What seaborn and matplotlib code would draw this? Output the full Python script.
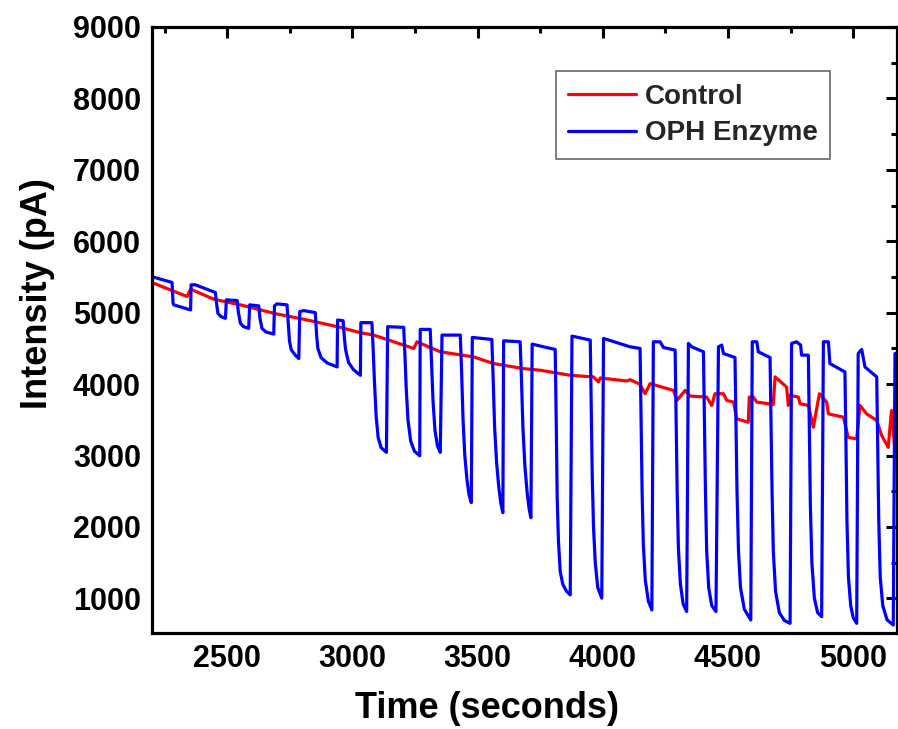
import numpy as np
import pandas as pd
import matplotlib
matplotlib.use("Agg")
import matplotlib.pyplot as plt
from matplotlib.ticker import MultipleLocator
import seaborn as sns

# ---- data ----
series_names = ["Control", "OPH Enzyme"]

control_time = [2205, 2340, 2354, 2447, 2553, 2686, 2819, 2952, 3032, 3085, 3245, 3258,
                3351, 3484, 3564, 3683, 3750, 3870, 3963, 3983, 3990, 4096, 4109, 4149,
                4169, 4189, 4282, 4296, 4329, 4349, 4415, 4435, 4448, 4482, 4495, 4522,
                4535, 4581, 4585, 4601, 4615, 4681, 4688, 4734, 4741, 4748, 4781, 4788,
                4821, 4841, 4865, 4894, 4901, 4961, 4980, 5014, 5027, 5054, 5094, 5114,
                5140, 5153, 5167]
control_intensity = [5414, 5226, 5329, 5188, 5109, 4991, 4898, 4794, 4719, 4686, 4499, 4592,
                     4452, 4381, 4287, 4217, 4194, 4123, 4100, 4029, 4086, 4043, 4062, 3996,
                     3865, 4006, 3912, 3771, 3912, 3832, 3818, 3701, 3865, 3865, 3771, 3748,
                     3513, 3466, 3818, 3818, 3748, 3715, 4100, 3959, 3701, 3842, 3818, 3724,
                     3701, 3396, 3865, 3748, 3583, 3537, 3255, 3231, 3701, 3583, 3490, 3278,
                     3114, 3630, 3067]

oph_time = [
    2205, 2280, 2284, 2287, 2354,
    2356, 2373, 2453, 2458, 2463, 2475, 2493,
    2497, 2540, 2545, 2553, 2565, 2586,
    2590, 2626, 2631, 2639, 2655, 2686,
    2689, 2699, 2739, 2744, 2749, 2756, 2772, 2786,
    2790, 2806, 2852, 2857, 2862, 2875, 2899, 2939,
    2941, 2963, 2968, 2973, 2985, 3005, 3032,
    3034, 3078, 3083, 3088, 3095, 3103, 3115, 3136,
    3141, 3205, 3210, 3215, 3222, 3233, 3248, 3269,
    3271, 3311, 3316, 3322, 3330, 3340, 3351,
    3358, 3431, 3436, 3442, 3449, 3458, 3466, 3475,
    3479, 3557, 3562, 3568, 3576, 3585, 3593, 3601,
    3604, 3670, 3675, 3681, 3689, 3698, 3706, 3713,
    3718, 3763, 3810, 3814, 3818, 3823, 3830, 3840, 3855, 3870,
    3877, 3950, 3954, 3958, 3963, 3970, 3980, 3996,
    4003, 4109, 4149, 4153, 4157, 4162, 4170, 4182, 4196,
    4202, 4229, 4242, 4289, 4293, 4297, 4302, 4310, 4321, 4335,
    4342, 4355, 4402, 4406, 4410, 4415, 4423, 4435, 4452,
    4462, 4475, 4482, 4528, 4532, 4536, 4542, 4550, 4565, 4591,
    4597, 4615, 4621, 4668, 4672, 4676, 4681, 4690, 4705, 4725, 4748,
    4754, 4774, 4790, 4794, 4821, 4825, 4829, 4835, 4845, 4858, 4874,
    4881, 4901, 4907, 4967, 4971, 4975, 4981, 4990, 5000, 5014,
    5020, 5034, 5047, 5094, 5098, 5102, 5108, 5118, 5135, 5160,
    5167, 5185]
oph_intensity = [
    5498, 5423, 5132, 5109, 5038,
    5390, 5390, 5282, 5120, 4991, 4945, 4921,
    5179, 5170, 5000, 4851, 4805, 4780,
    5109, 5095, 4920, 4780, 4730, 4700,
    5095, 5123, 5109, 4850, 4600, 4480, 4405, 4358,
    5015, 5029, 5001, 4700, 4500, 4370, 4297, 4240,
    4897, 4888, 4650, 4480, 4300, 4200, 4123,
    4860, 4860, 4500, 4050, 3550, 3250, 3110, 3044,
    4804, 4794, 4400, 3950, 3500, 3200, 3060, 2997,
    4766, 4766, 4300, 3771, 3350, 3130, 3044,
    4686, 4686, 4200, 3500, 3000, 2650, 2450, 2340,
    4653, 4625, 4100, 3400, 2900, 2550, 2330, 2199,
    4606, 4592, 4100, 3400, 2850, 2480, 2250, 2129,
    4560, 4522, 4485, 3500, 2400, 1800, 1378, 1200, 1100, 1049,
    4672, 4616, 3700, 2700, 2000, 1500, 1150, 1002,
    4639, 4522, 4499, 3500, 2500, 1750, 1250, 960, 838,
    4592, 4592, 4513, 4475, 3500, 2500, 1700, 1200, 920, 815,
    4569, 4522, 4452, 3500, 2500, 1659, 1150, 900, 815,
    4522, 4546, 4428, 4372, 3400, 2500, 1659, 1150, 850, 697,
    4592, 4592, 4452, 4372, 3400, 2500, 1659, 1100, 800, 690, 650,
    4569, 4592, 4546, 4405, 4405, 3400, 2300, 1500, 1000, 800, 744,
    4592, 4592, 4287, 4170, 3200, 2100, 1300, 900, 730, 650,
    4428, 4485, 4240, 4100, 3100, 2100, 1300, 900, 700, 627,
    4428, 4440]

x_ticks = [2500, 3000, 3500, 4000, 4500, 5000]
y_ticks = [1000, 2000, 3000, 4000, 5000, 6000, 7000, 8000, 9000]
x_label = "Time (seconds)"
y_label = "Intensity (pA)"

# ---- build table ----
df = pd.concat([
    pd.DataFrame({"Time": control_time, "Intensity": control_intensity,
                  "Series": series_names[0]}),
    pd.DataFrame({"Time": oph_time, "Intensity": oph_intensity,
                  "Series": series_names[1]}),
], ignore_index=True)

sns.set_theme(style="white")
plt.rcParams["font.family"] = ["Liberation Sans", "DejaVu Sans"]
plt.rcParams["font.weight"] = "bold"

fig = plt.figure(figsize=(8.98, 7.29), dpi=100)
ax = fig.add_axes([0.1693, 0.1317, 0.8296, 0.8313])

sns.lineplot(data=df, x="Time", y="Intensity", hue="Series",
             hue_order=series_names, palette=["#ff0000", "#0000ff"],
             sort=False, estimator=None, units="Series", linewidth=2.3, ax=ax)

ax.set_xlim(2200, 5175)
ax.set_ylim(515, 9000)
ax.set_xticks(x_ticks)
ax.set_yticks(y_ticks)
ax.xaxis.set_minor_locator(MultipleLocator(250))
ax.yaxis.set_minor_locator(MultipleLocator(500))
ax.tick_params(which="both", direction="in", top=True, right=True,
               width=2.2, color="black", labelsize=22, labelcolor="black")
ax.tick_params(which="major", length=8, pad=8)
ax.tick_params(which="minor", length=4.5)
for lab in ax.get_xticklabels() + ax.get_yticklabels():
    lab.set_fontweight("bold")

for s in ax.spines.values():
    s.set_visible(True)
    s.set_color("black")
    s.set_linewidth(2.3)

ax.set_xlabel(x_label, fontsize=26, fontweight="bold", labelpad=12, color="black", x=0.450)
ax.set_ylabel(y_label, fontsize=26, fontweight="bold", labelpad=13, color="black", y=0.560)

handles, labels = ax.get_legend_handles_labels()
leg = ax.legend(handles, labels, loc="upper right", bbox_to_anchor=(0.910, 0.927),
                fontsize=20, frameon=True, fancybox=False, framealpha=1,
                edgecolor="#666666", handlelength=2.45, handletextpad=0.3,
                labelspacing=0.38, borderpad=0.45, borderaxespad=0)
leg.get_frame().set_linewidth(1.2)
for t in leg.get_texts():
    t.set_fontweight("bold")
for l in leg.get_lines():
    l.set_linewidth(2.3)

fig.savefig("out.png", dpi=100, facecolor="white")
